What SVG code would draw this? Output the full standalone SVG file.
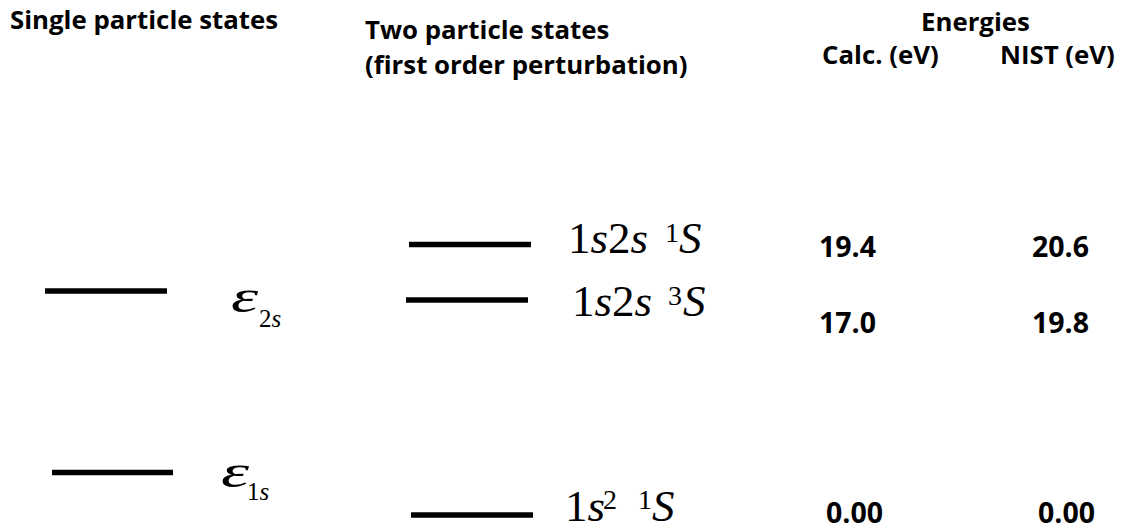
<svg xmlns="http://www.w3.org/2000/svg" width="1127" height="531" viewBox="0 0 1127 531">
<style>
.hd{font-family:"Open Sans","Liberation Sans",sans-serif;font-weight:bold;font-size:25.8px;fill:#000}
.num{font-family:"Open Sans","Liberation Sans",sans-serif;font-weight:bold;font-size:28.5px;fill:#000}
.lv{stroke:#000;stroke-width:5.5;fill:none}
.m{font-family:"Liberation Serif","Times New Roman",serif;font-size:45px;fill:#000}
.it{font-style:italic}
.sup{font-size:28px}
.eps{font-family:"Liberation Serif","Times New Roman",serif;font-style:italic;font-size:46px;fill:#000}
.sub{font-family:"Liberation Serif","Times New Roman",serif;font-size:25px;fill:#000}
</style>
<rect width="1127" height="531" fill="#fff"/>
<g id="headers">
<text class="hd" x="10" y="29">Single particle states</text>
<text class="hd" x="365" y="39">Two particle states</text>
<text class="hd" x="365" y="74">(first order perturbation)</text>
<text class="hd" x="921" y="30.5">Energies</text>
<text class="hd" x="822" y="64">Calc. (eV)</text>
<text class="hd" x="1000" y="64">NIST (eV)</text>
</g>
<g id="single-2s">
<line class="lv" x1="45" y1="291" x2="167" y2="291"/>
<text class="eps" transform="translate(231,312) scale(1.5,1)" x="0" y="0">ε</text>
<text class="sub" x="259" y="327">2<tspan class="it">s</tspan></text>
</g>
<g id="single-1s">
<line class="lv" x1="52" y1="472.5" x2="173" y2="472.5"/>
<text class="eps" transform="translate(221,487) scale(1.55,1)" x="0" y="0">ε</text>
<text class="sub" x="247" y="500">1<tspan class="it">s</tspan></text>
</g>
<g id="two-1s2s-1S">
<line class="lv" x1="409" y1="244.5" x2="531" y2="244.5"/>
<text class="m" x="568" y="253">1<tspan class="it">s</tspan>2<tspan class="it">s</tspan></text>
<text class="m sup" x="665" y="242">1</text>
<text class="m it" x="679" y="253">S</text>
<text class="num" x="819" y="257">19.4</text>
<text class="num" x="1032" y="257">20.6</text>
</g>
<g id="two-1s2s-3S">
<line class="lv" x1="406" y1="300" x2="528" y2="300"/>
<text class="m" x="572" y="316">1<tspan class="it">s</tspan>2<tspan class="it">s</tspan></text>
<text class="m sup" x="668" y="305">3</text>
<text class="m it" x="683" y="316">S</text>
<text class="num" x="819" y="333">17.0</text>
<text class="num" x="1032" y="333">19.8</text>
</g>
<g id="two-1s2-1S">
<line class="lv" x1="411" y1="515" x2="533" y2="515"/>
<text class="m" x="565" y="521" font-size="44">1<tspan class="it">s</tspan></text>
<text class="m sup" x="603" y="509">2</text>
<text class="m sup" x="638" y="509">1</text>
<text class="m it" x="652" y="521" font-size="44">S</text>
<text class="num" x="826" y="523">0.00</text>
<text class="num" x="1038" y="523">0.00</text>
</g>
<g id="connectors"/>
</svg>
